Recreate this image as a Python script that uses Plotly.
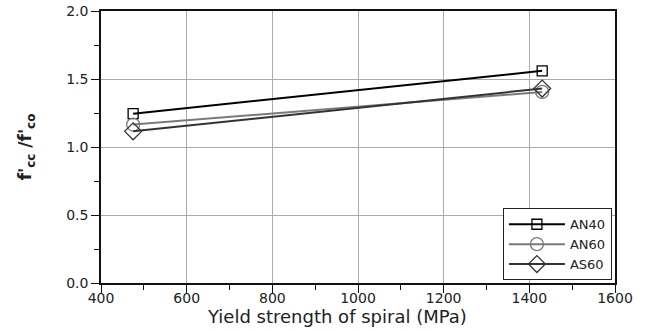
import plotly.graph_objects as go

yield_strength = [475, 1430]
an40 = [1.245, 1.56]
an60 = [1.165, 1.405]
as60 = [1.115, 1.43]

x_title = "Yield strength of spiral (MPa)"
y_title = "<b>f'<sub>cc</sub> /f'<sub>co</sub></b>"

series = [
    ("AN40", an40, "#000000", "square-open", 10),
    ("AN60", an60, "#7a7a7a", "circle-open", 13),
    ("AS60", as60, "#333333", "diamond-open", 13),
]

fig = go.Figure()
for name, vals, color, sym, size in series:
    fig.add_trace(go.Scatter(
        x=yield_strength, y=vals, name=name, mode="lines+markers",
        line=dict(color=color, width=2),
        marker=dict(symbol=sym, size=size, color=color, line=dict(width=1.3, color=color)),
    ))

font = "DejaVu Sans, Arial, sans-serif"
fig.update_layout(
    width=649, height=331,
    margin=dict(l=101, r=34, t=11, b=48),
    paper_bgcolor="white", plot_bgcolor="white",
    font=dict(family=font, size=14, color="#222"),
    showlegend=True,
    legend=dict(x=0.994, y=0.01, xanchor="right", yanchor="bottom",
                bordercolor="#222", borderwidth=1, bgcolor="white",
                font=dict(size=13), tracegroupgap=0, itemwidth=56,
                traceorder="normal"),
    xaxis=dict(range=[400, 1600], dtick=200, tick0=400, automargin=False,
               showline=True, linecolor="#111", linewidth=1.5, mirror=True,
               ticks="outside", ticklen=8, tickcolor="#111", ticklabelstandoff=-7,
               minor=dict(dtick=100, ticks="outside", ticklen=5, tickcolor="#111"),
               showgrid=True, gridcolor="#aaaaaa", gridwidth=1,
               zeroline=False),
    yaxis=dict(range=[0, 2.0], dtick=0.5, tickformat=".1f", automargin=False,
               showline=True, linecolor="#111", linewidth=1.5, mirror=True,
               ticks="outside", ticklen=8, tickcolor="#111",
               minor=dict(dtick=0.25, ticks="outside", ticklen=5, tickcolor="#111"),
               showgrid=True, gridcolor="#aaaaaa", gridwidth=1,
               zeroline=False,
               title=dict(text=y_title, font=dict(size=17), standoff=30)),
    annotations=[dict(text=x_title, xref="paper", yref="paper",
                      x=0.459, y=-0.122, xanchor="center", yanchor="middle",
                      showarrow=False, font=dict(size=18))],
)

fig.write_html("out.html")
